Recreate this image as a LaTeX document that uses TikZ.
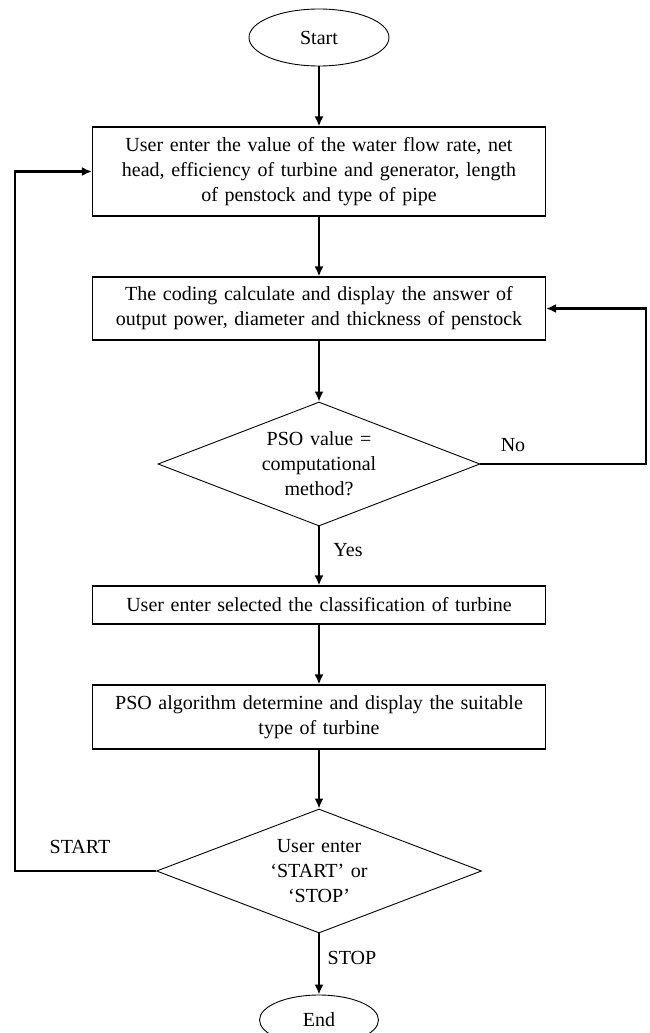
\documentclass[tikz,border=0pt]{standalone}
\usepackage{fontspec}
\setmainfont[WordSpace=1.9]{Liberation Serif}
\usetikzlibrary{arrows.meta, positioning, shapes.geometric}

\begin{document}
\begin{tikzpicture}[x=1pt,y=-1pt,
  >={Latex[length=10pt,width=9pt]},
  every node/.style={font=\fontsize{20}{25}\selectfont},
  terminal/.style={draw,ellipse,line width=0.9pt,minimum width=140pt,minimum height=57pt,inner sep=0pt},
  process/.style={draw,rectangle,line width=1.1pt,minimum width=453pt,text width=440pt,align=center,inner sep=0pt},
  decision/.style={draw,diamond,aspect=2.6,line width=0.9pt,minimum width=322pt,minimum height=124pt,inner sep=0pt,text width=120pt,align=center},
  flow/.style={line width=2.8pt,->}]
\useasboundingbox (0,0) rectangle (649,1033);
%start and the input box
\node[terminal] (start) at (319,37.5) {Start};
\node[process,minimum height=89pt] (in) at (319,171.5) {User enter the value of the water flow rate, net\\ head, efficiency of turbine and generator, length\\ of penstock and type of pipe};
%calculation and first decision
\node[process,minimum height=63pt] (calc) at (319,308.5) {The coding calculate and display the answer of\\ output power, diameter and thickness of penstock};
\node[decision] (dec1) at (319,464) {PSO value =\\ computational\\ method?};
%turbine selection
\node[process,minimum height=38pt] (sel) at (319,605) {User enter selected the classification of turbine};
\node[process,minimum height=64pt] (pso) at (319,717) {PSO algorithm determine and display the suitable\\ type of turbine};
%second decision and end
\node[decision,minimum width=325pt] (dec2) at (319,871) {User enter\\ `START' or\\ `STOP'};
\node[terminal,minimum width=119pt,minimum height=50pt] (end) at (319,1020) {End};
%branch labels
\node (nolbl) at (513,445) {No};
\node (yeslbl) at (348,550) {Yes};
\node (startlbl) at (80,847) {START};
\node (stoplbl) at (352,958) {STOP};
%main column of arrows
\draw[flow] (start) -- (in);
\draw[flow] (in) -- (calc);
\draw[flow] (calc) -- (dec1);
\draw[flow] (dec1) -- (sel);
\draw[flow] (sel) -- (pso);
\draw[flow] (pso) -- (dec2);
\draw[flow] (dec2) -- (end);
%loop back on the right (No)
\coordinate (loopR) at (646,464);
\draw[flow] (dec1.east) -- (loopR) |- (calc.east);
%loop back on the left (START)
\coordinate (loopL) at (15,871);
\draw[flow] (dec2.west) -- (loopL) |- (in.west);
\end{tikzpicture}
\end{document}
